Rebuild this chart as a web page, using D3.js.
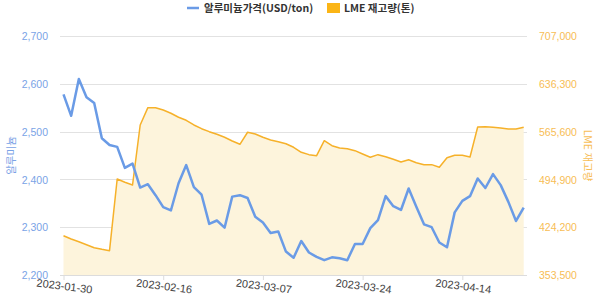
<!DOCTYPE html>
<html>
<head>
<meta charset="utf-8">
<script src="https://cdn.jsdelivr.net/npm/d3@7"></script>
<style>
  html, body { margin: 0; padding: 0; background: #fff; }
  svg { display: block; font-family: "Noto Sans CJK KR", "Noto Sans", sans-serif; }
</style>
</head>
<body>
<div id="chart"></div>
<script>
const dates = [
  '2023-01-30','2023-01-31','2023-02-01','2023-02-02','2023-02-03','2023-02-06','2023-02-07',
  '2023-02-08','2023-02-09','2023-02-10','2023-02-13','2023-02-14','2023-02-15','2023-02-16',
  '2023-02-17','2023-02-20','2023-02-21','2023-02-22','2023-02-23','2023-02-24','2023-02-27',
  '2023-02-28','2023-03-01','2023-03-02','2023-03-03','2023-03-06','2023-03-07','2023-03-08',
  '2023-03-09','2023-03-10','2023-03-13','2023-03-14','2023-03-15','2023-03-16','2023-03-17',
  '2023-03-20','2023-03-21','2023-03-22','2023-03-23','2023-03-24','2023-03-27','2023-03-28',
  '2023-03-29','2023-03-30','2023-03-31','2023-04-03','2023-04-04','2023-04-05','2023-04-06',
  '2023-04-11','2023-04-12','2023-04-13','2023-04-14','2023-04-17','2023-04-18','2023-04-19',
  '2023-04-20','2023-04-21','2023-04-24','2023-04-25','2023-04-26'
];

// 알루미늄 가격 (USD/ton)
const priceValues = [
  2578, 2533, 2610, 2572, 2560, 2486, 2472, 2468, 2424, 2433, 2383, 2390, 2367, 2342,
  2335, 2392, 2430, 2384, 2368, 2307, 2314, 2299, 2364, 2367, 2361, 2322, 2310, 2288,
  2291, 2249, 2236, 2271, 2247, 2238, 2231, 2237, 2235, 2231, 2265, 2265, 2298, 2315,
  2365, 2344, 2336, 2381, 2343, 2306, 2300, 2268, 2258, 2331, 2355, 2365, 2402, 2382,
  2411, 2388, 2353, 2313, 2341
];

// LME 재고량 (톤)
const stockValues = [
  411600, 406700, 402700, 398300, 393900, 391500, 389500, 495500, 490600, 486600,
  575400, 601000, 601000, 597500, 592700, 586800, 582300, 575400, 569900, 565500,
  561600, 557200, 551700, 546800, 564600, 562000, 557200, 553200, 550700, 547700,
  542400, 535000, 531500, 530000, 552200, 544800, 541400, 540300, 537400, 532500,
  527600, 531500, 528500, 524600, 520700, 524000, 519600, 516700, 516700, 512800,
  527000, 530500, 530500, 528000, 572400, 572900, 572000, 570900, 569500, 569500,
  572000
];

const xTickLabels = ['2023-01-30', '2023-02-16', '2023-03-07', '2023-03-24', '2023-04-14'];
const priceTicks = [2200, 2300, 2400, 2500, 2600, 2700];
const stockTicks = [353500, 424200, 494900, 565600, 636300, 707000];

const legendLabels = ['알루미늄가격(USD/ton)', 'LME 재고량(톤)'];

const W = 600, H = 301;
const MARGIN = { top: 36, right: 76, bottom: 26, left: 63.5 };
const BLUE = '#6a9be6';
const ORANGE = '#f6b12a';
const FILL = '#fdf4dc';

const svg = d3.select('#chart').append('svg')
  .attr('width', W)
  .attr('height', H);

const x = d3.scalePoint()
  .domain(dates)
  .range([MARGIN.left, 523.7]);

const yL = d3.scaleLinear()
  .domain([2200, 2700])
  .range([H - MARGIN.bottom, MARGIN.top]);

const yR = d3.scaleLinear()
  .domain([353500, 707000])
  .range([H - MARGIN.bottom, MARGIN.top]);

// gridlines
svg.append('g')
  .selectAll('line')
  .data(priceTicks)
  .join('line')
  .attr('x1', 60)
  .attr('x2', 527)
  .attr('y1', d => Math.round(yL(d)) + 0.5)
  .attr('y2', d => Math.round(yL(d)) + 0.5)
  .attr('stroke', '#e2e2e2')
  .attr('stroke-width', 1);

// stock area + line
const stockData = dates.map((d, i) => ({ date: d, value: stockValues[i] }));
const priceData = dates.map((d, i) => ({ date: d, value: priceValues[i] }));

const area = d3.area()
  .x(d => x(d.date))
  .y0(yR(353500))
  .y1(d => yR(d.value));

svg.append('path')
  .datum(stockData)
  .attr('fill', FILL)
  .attr('d', area);

svg.append('path')
  .datum(stockData)
  .attr('fill', 'none')
  .attr('stroke', ORANGE)
  .attr('stroke-width', 1.5)
  .attr('stroke-linejoin', 'round')
  .attr('d', d3.line().x(d => x(d.date)).y(d => yR(d.value)));

// x axis
const xAxis = svg.append('g')
  .attr('transform', `translate(0, ${yL(2200)})`)
  .call(d3.axisBottom(x).tickValues(xTickLabels).tickSize(5).tickSizeOuter(0));
xAxis.select('.domain').attr('stroke', '#dcdcdc').attr('d', 'M60,0.5H527');
xAxis.selectAll('.tick line').attr('stroke', '#dcdcdc');
xAxis.selectAll('.tick text')
  .attr('fill', '#444')
  .attr('font-size', 11)
  .attr('text-anchor', 'middle')
  .attr('y', 0)
  .attr('dy', 0)
  .attr('transform', 'translate(0, 15) rotate(7)');

// price line
svg.append('path')
  .datum(priceData)
  .attr('fill', 'none')
  .attr('stroke', BLUE)
  .attr('stroke-width', 2.5)
  .attr('stroke-linejoin', 'round')
  .attr('d', d3.line().x(d => x(d.date)).y(d => yL(d.value)));

// left axis
const leftAxis = svg.append('g')
  .attr('transform', 'translate(48, 0)')
  .call(d3.axisLeft(yL).tickValues(priceTicks).tickSize(0).tickFormat(d3.format(',')));
leftAxis.select('.domain').remove();
leftAxis.selectAll('text')
  .attr('fill', '#7aa3e6')
  .attr('font-size', 10.5)
  .attr('x', 0)
  .attr('dy', '0.35em');

// right axis
const rightAxis = svg.append('g')
  .attr('transform', 'translate(539, 0)')
  .call(d3.axisRight(yR).tickValues(stockTicks).tickSize(0).tickFormat(d3.format(',')));
rightAxis.select('.domain').remove();
rightAxis.selectAll('text')
  .attr('fill', '#f7bd55')
  .attr('font-size', 10.5)
  .attr('x', 0)
  .attr('dy', '0.35em');

// axis titles
svg.append('text')
  .attr('transform', `translate(11, ${(yL(2200) + yL(2700)) / 2}) rotate(-90)`)
  .attr('text-anchor', 'middle')
  .attr('dy', '0.35em')
  .attr('fill', '#7aa3e6')
  .attr('font-size', 10.5)
  .text('알루미늄');

svg.append('text')
  .attr('transform', `translate(588, ${(yL(2200) + yL(2700)) / 2}) rotate(90)`)
  .attr('text-anchor', 'middle')
  .attr('dy', '0.35em')
  .attr('fill', '#f7bd55')
  .attr('font-size', 10.5)
  .text('LME 재고량');

// legend
const legend = svg.append('g').attr('font-size', 10.5).attr('font-weight', 'bold').attr('fill', '#333');
legend.append('line')
  .attr('x1', 187).attr('x2', 199)
  .attr('y1', 8).attr('y2', 8)
  .attr('stroke', BLUE).attr('stroke-width', 2.5);
legend.append('text')
  .attr('x', 204).attr('y', 8.5).attr('dy', '0.35em')
  .text(legendLabels[0]);
legend.append('rect')
  .attr('x', 327).attr('y', 3)
  .attr('width', 13).attr('height', 10)
  .attr('fill', '#fbb516');
legend.append('text')
  .attr('x', 344).attr('y', 8.5).attr('dy', '0.35em')
  .text(legendLabels[1]);
</script>
</body>
</html>
